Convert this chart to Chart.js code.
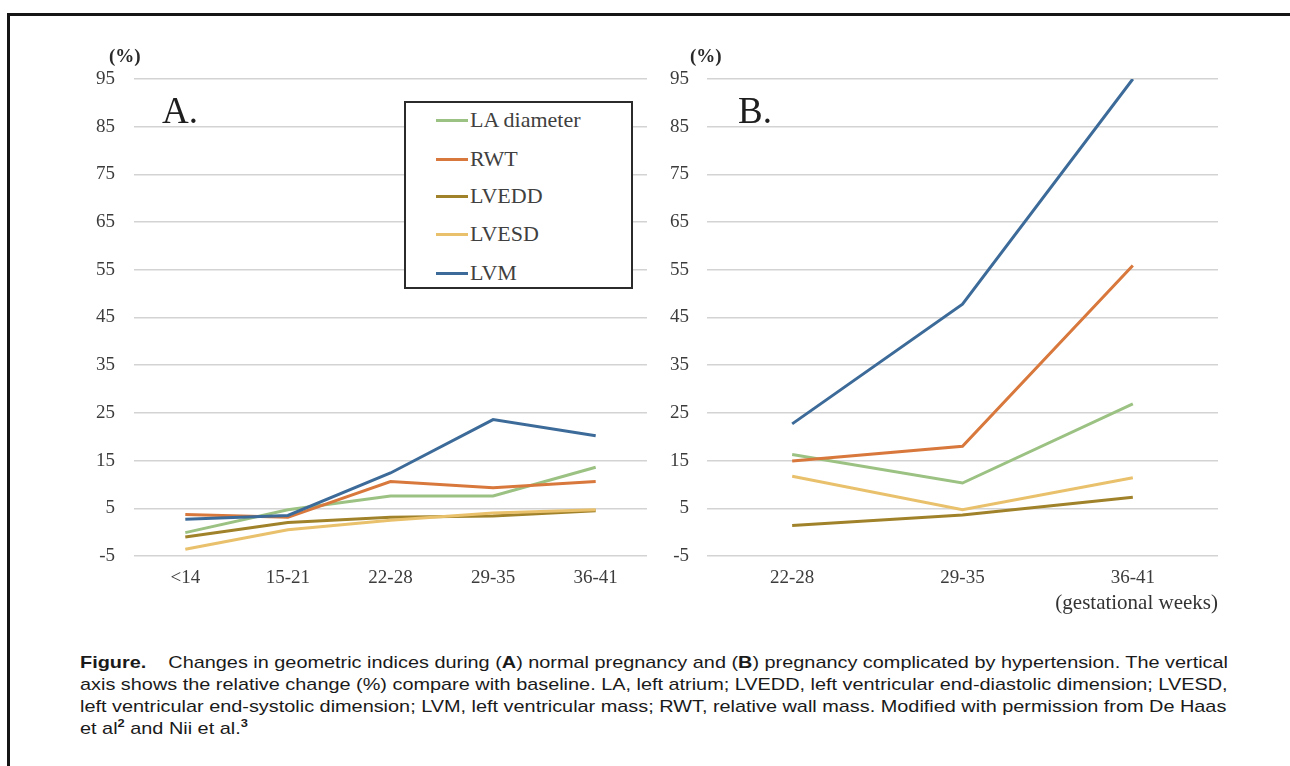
<!DOCTYPE html>
<html>
<head>
<meta charset="utf-8">
<script src="https://cdn.jsdelivr.net/npm/chart.js@4.4.1/dist/chart.umd.min.js"></script>
<style>
  body { margin: 0; width: 1290px; height: 766px; background: #fff; position: relative; overflow: hidden; font-family: "Liberation Serif", serif; }
  #frame { position: absolute; left: 7px; top: 13px; width: 1320px; height: 800px; border: 3px solid #151515; box-sizing: border-box; }
  .box { position: absolute; }
  .pct { position: absolute; font-size: 19px; color: #2a2a2a; font-weight: bold; }
  .tag { position: absolute; font-size: 37px; color: #1e1e1e; }
  #legend { position: absolute; left: 404px; top: 101px; width: 229px; height: 188px; border: 2px solid #2b2b2b; background: #fff; box-sizing: border-box; }
  .lg { position: absolute; left: 30px; height: 24px; font-size: 22px; color: #404040; line-height: 24px; white-space: nowrap; }
  .lg span { display: inline-block; width: 32px; height: 3px; vertical-align: middle; margin-right: 2px; position: relative; top: -1px; }
  #caption { position: absolute; left: 80px; top: 652px; font-family: "Liberation Sans", Arial, sans-serif; font-size: 17px; line-height: 22px; color: #1a1a1a; white-space: nowrap; transform-origin: 0 0; }
  #caption sup { font-size: 11px; font-weight: bold; line-height: 0; }
</style>
</head>
<body>
<div id="frame"></div>

<div class="box" style="left:60px;top:40px;width:600px;height:576px;"><canvas id="chartA"></canvas></div>
<div class="box" style="left:640px;top:40px;width:600px;height:576px;"><canvas id="chartB"></canvas></div>

<div class="pct" style="left:109px;top:45px;">(%)</div>
<div class="pct" style="left:690px;top:45px;">(%)</div>
<div class="tag" style="left:162px;top:89px;">A.</div>
<div class="tag" style="left:738px;top:89px;">B.</div>

<div id="legend"></div>

<div id="caption"><span id="line1"><b>Figure.</b>&nbsp;&nbsp;&nbsp; Changes in geometric indices during (<b>A</b>) normal pregnancy and (<b>B</b>) pregnancy complicated by hypertension. The vertical</span><br>axis shows the relative change (%) compare with baseline. LA, left atrium; LVEDD, left ventricular end-diastolic dimension; LVESD,<br>left ventricular end-systolic dimension; LVM, left ventricular mass; RWT, relative wall mass. Modified with permission from De Haas<br>et al<sup>2</sup> and Nii et al.<sup>3</sup></div>

<script>
// series names and colours
const seriesNames = ['LA diameter', 'RWT', 'LVEDD', 'LVESD', 'LVM'];
const seriesColors = ['#9cc283', '#d8783c', '#a0822a', '#e9c16c', '#3d6b99'];

// panel A: normal pregnancy
const weeksA = ['<14', '15-21', '22-28', '29-35', '36-41'];
const laA    = [-0.1, 4.7, 7.6, 7.6, 13.6];
const rwtA   = [3.7, 3.1, 10.6, 9.3, 10.6];
const lveddA = [-1.0, 2.0, 3.1, 3.4, 4.5];
const lvesdA = [-3.6, 0.5, 2.5, 4.0, 4.7];
const lvmA   = [2.7, 3.5, 12.4, 23.6, 20.2];

// panel B: pregnancy complicated by hypertension
const weeksB = ['22-28', '29-35', '36-41'];
const laB    = [16.3, 10.3, 26.9];
const rwtB   = [14.9, 18.0, 55.9];
const lveddB = [1.4, 3.6, 7.3];
const lvesdB = [11.7, 4.7, 11.4];
const lvmB   = [22.7, 47.8, 95];

// y axis ticks (%)
const yMin = -5, yMax = 95, yStep = 10;

const tickFont = { family: 'Liberation Serif', size: 19 };
const tickColor = '#3c3c3c';

function makeDatasets(valueLists) {
    return valueLists.map((vals, i) => ({
        label: seriesNames[i],
        data: vals,
        borderColor: seriesColors[i],
        backgroundColor: seriesColors[i],
        borderWidth: 3,
        pointRadius: 0,
        tension: 0,
        order: seriesNames.length - 1 - i, // LVM drawn on top
    }));
}

function makeChart(id, labels, valueLists, yWidth, yPad, rightPad, xTitle) {
    const ctx = document.getElementById(id).getContext('2d');
    return new Chart(ctx, {
        type: 'line',
        data: { labels: labels, datasets: makeDatasets(valueLists) },
        options: {
            responsive: true,
            maintainAspectRatio: false,
            animation: false,
            layout: { padding: { top: 39, right: rightPad, left: 0, bottom: 0 } },
            plugins: { legend: { display: false }, tooltip: { enabled: false } },
            scales: {
                x: {
                    offset: true,
                    grid: { display: false, drawTicks: false },
                    border: { display: false },
                    ticks: { font: tickFont, color: tickColor, padding: 11, maxRotation: 0 },
                    title: {
                        display: !!xTitle,
                        text: xTitle || '',
                        align: 'end',
                        color: '#333',
                        font: { family: 'Liberation Serif', size: 21 },
                        padding: 0,
                    },
                    afterFit: (scale) => { scale.height = 60; },
                },
                y: {
                    min: yMin,
                    max: yMax,
                    grid: { color: '#d3d3d3', lineWidth: 1.5, drawTicks: false },
                    border: { display: false },
                    ticks: { stepSize: yStep, font: tickFont, color: tickColor, padding: yPad },
                    afterFit: (scale) => { scale.width = yWidth; },
                },
            },
        },
    });
}

makeChart('chartA', weeksA, [laA, rwtA, lveddA, lvesdA, lvmA], 74, 19, 13, '');
makeChart('chartB', weeksB, [laB, rwtB, lveddB, lvesdB, lvmB], 67, 18, 22, '(gestational weeks)');

// legend box for panel A
const legend = document.getElementById('legend');
const rowTops = [5, 44, 81, 119, 158];
seriesNames.forEach((name, i) => {
    const row = document.createElement('div');
    row.className = 'lg';
    row.style.top = rowTops[i] + 'px';
    row.innerHTML = '<span style="background:' + seriesColors[i] + '"></span>' + name;
    legend.appendChild(row);
});

// squeeze caption to the condensed width of the original
const w = document.getElementById('line1').getBoundingClientRect().width;
document.getElementById('caption').style.transform = 'scaleX(' + (1148 / w) + ')';
</script>
</body>
</html>
